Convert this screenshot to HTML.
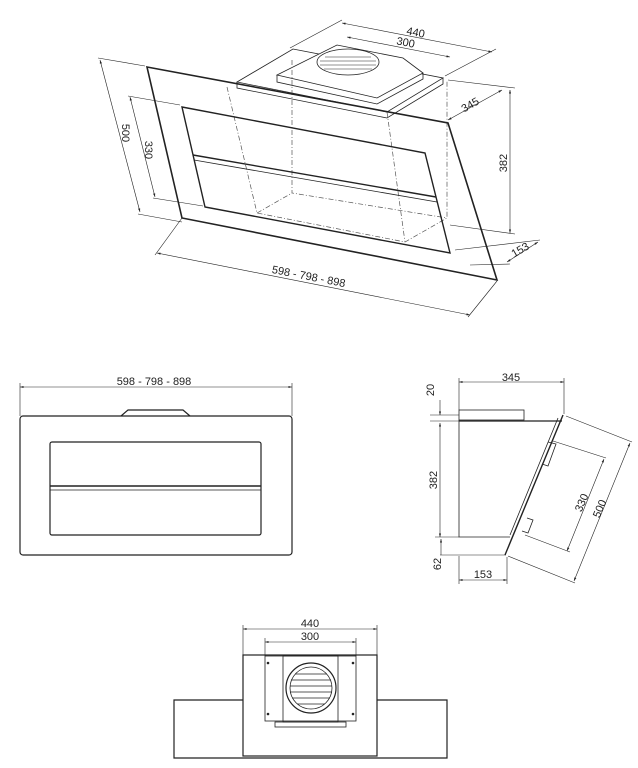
<!DOCTYPE html>
<html><head><meta charset="utf-8"><style>
html,body{margin:0;padding:0;background:#fff;}
svg{display:block;}
text{font-family:"Liberation Sans",sans-serif;font-size:11px;fill:#222;}
</style></head><body>
<svg width="638" height="768" viewBox="0 0 638 768" xmlns="http://www.w3.org/2000/svg">
<defs>
<marker id="a" viewBox="0 0 10 10" refX="10" refY="5" markerWidth="6" markerHeight="6" orient="auto-start-reverse"><path d="M0,2L10,5L0,8z" fill="#222"/></marker>
</defs>
<g fill="none" stroke="#222" stroke-width="0.8">
<!-- ISOMETRIC -->
<!-- motor box -->
<polygon points="237,82 293,49 443,78 387,112" />
<polyline points="237,82 237,88 387,118 443,84 443,78"/>
<polygon points="277,75 337,45 403,58 423,73 377,98" fill="#fff"/>
<polyline points="277,75 277,82 377,104 423,79 423,73"/>
<ellipse cx="348" cy="62" rx="31" ry="13"/>
<g stroke-width="0.6"><line x1="325" y1="57" x2="371" y2="57"/><line x1="320" y1="61" x2="376" y2="61"/><line x1="320" y1="65" x2="376" y2="65"/><line x1="324" y1="69" x2="372" y2="69"/></g>
<!-- dashed box -->
<g stroke-dasharray="5,2,1,2" stroke="#555" stroke-width="0.7">
<polyline points="227,87 257,213 405,242 447,218 447,80"/>
<polyline points="292,60 292,193 447,218"/>
<line x1="257" y1="213" x2="292" y2="193"/>
<polyline points="387,112 405,242"/>
</g>
<!-- outer glass -->
<polygon points="147,67 448,123 497,280 182,218" stroke-width="1.6" fill="none"/>
<!-- inner panel -->
<polygon points="182,107 425,153 450,253 205,207" stroke-width="1.4"/>
<line x1="193" y1="155" x2="436" y2="197" stroke-width="1.4"/>
<line x1="194" y1="160" x2="437" y2="202"/>
<!-- dims iso -->
<g stroke-width="0.6">
<line x1="342" y1="23" x2="492" y2="52" marker-start="url(#a)" marker-end="url(#a)"/>
<line x1="290" y1="48" x2="342" y2="20"/><line x1="445" y1="76" x2="496" y2="49"/>
<line x1="347" y1="37" x2="450" y2="57" marker-start="url(#a)" marker-end="url(#a)"/>
<line x1="100" y1="60" x2="140" y2="212" marker-start="url(#a)" marker-end="url(#a)"/>
<line x1="98" y1="58" x2="145" y2="66"/><line x1="138" y1="214" x2="182" y2="222"/>
<line x1="130" y1="97" x2="155" y2="197" marker-start="url(#a)" marker-end="url(#a)"/>
<line x1="128" y1="96" x2="180" y2="105"/><line x1="153" y1="198" x2="203" y2="206"/>
<line x1="510" y1="90" x2="510" y2="233" marker-start="url(#a)" marker-end="url(#a)"/>
<line x1="448" y1="80" x2="515" y2="88"/><line x1="450" y1="225" x2="515" y2="234"/>
<line x1="448" y1="120" x2="502" y2="90" marker-start="url(#a)" marker-end="url(#a)"/>
<line x1="507" y1="262" x2="538" y2="242" marker-start="url(#a)" marker-end="url(#a)"/>
<line x1="455" y1="250" x2="540" y2="240"/><line x1="470" y1="265" x2="510" y2="264"/>
<line x1="157" y1="253" x2="470" y2="315" marker-start="url(#a)" marker-end="url(#a)"/>
<line x1="155" y1="255" x2="182" y2="218"/><line x1="468" y1="317" x2="497" y2="281"/>
</g>
<!-- FRONT -->
<rect x="20" y="416" width="272" height="139" rx="3" stroke-width="1.2"/>
<polyline points="121,416 128,410 183,410 190,416" stroke-width="1.2"/>
<rect x="50" y="442" width="211" height="93" rx="2" stroke-width="1.2"/>
<line x1="50" y1="486" x2="261" y2="486" stroke-width="1.4"/><line x1="50" y1="490" x2="261" y2="490"/>
<line x1="20" y1="387" x2="292" y2="387" stroke-width="0.6" marker-start="url(#a)" marker-end="url(#a)"/>
<line x1="20" y1="383" x2="20" y2="416" stroke-width="0.6"/><line x1="292" y1="383" x2="292" y2="416" stroke-width="0.6"/>
<!-- SIDE -->
<rect x="459" y="410" width="65" height="10"/>
<polyline points="459,420 459,537 510,537"/>
<line x1="459" y1="421" x2="562" y2="421" stroke-width="1.2"/>
<line x1="563" y1="415" x2="505" y2="555" stroke-width="1.4"/>
<line x1="558" y1="418" x2="510" y2="535"/>
<polyline points="548,442 556,444 548,466 542,464 z"/>
<polyline points="527,518 533,520 528,533 522,531 z"/>
<g stroke-width="0.6">
<line x1="459" y1="382" x2="564" y2="382" marker-start="url(#a)" marker-end="url(#a)"/>
<line x1="459" y1="378" x2="459" y2="410"/><line x1="564" y1="378" x2="564" y2="414"/>
<line x1="430" y1="415" x2="459" y2="415"/><line x1="430" y1="421" x2="459" y2="421"/>
<line x1="440" y1="400" x2="440" y2="415" marker-end="url(#a)"/>
<line x1="440" y1="423" x2="440" y2="537" marker-start="url(#a)" marker-end="url(#a)"/>
<line x1="435" y1="537" x2="459" y2="537"/><line x1="440" y1="555" x2="506" y2="555"/>
<line x1="441" y1="539" x2="441" y2="555" marker-start="url(#a)"/>
<line x1="459" y1="580" x2="507" y2="580" marker-start="url(#a)" marker-end="url(#a)"/>
<line x1="459" y1="556" x2="459" y2="584"/><line x1="507" y1="557" x2="507" y2="584"/>
<line x1="553" y1="441" x2="606" y2="458"/><line x1="525" y1="535" x2="570" y2="552"/>
<line x1="604" y1="459" x2="567" y2="551" marker-start="url(#a)" marker-end="url(#a)"/>
<line x1="566" y1="416" x2="632" y2="442"/><line x1="508" y1="556" x2="575" y2="583"/>
<line x1="630" y1="443" x2="574" y2="581" marker-start="url(#a)" marker-end="url(#a)"/>
</g>
<!-- BOTTOM -->
<polyline points="243,700 174,700 174,758 447,758 447,700 377,700" stroke-width="1.2"/>
<rect x="243" y="655" width="134" height="101" stroke-width="1.2"/>
<rect x="265" y="656" width="91" height="65"/>
<rect x="283" y="656" width="55" height="66"/>
<rect x="275" y="722" width="71" height="5"/>
<circle cx="311" cy="688" r="25" stroke-width="1.2"/><circle cx="311" cy="688" r="21"/>
<g stroke-width="0.7"><line x1="295" y1="674" x2="327" y2="674"/><line x1="291" y1="680" x2="331" y2="680"/><line x1="290" y1="686" x2="332" y2="686"/><line x1="290" y1="692" x2="332" y2="692"/><line x1="292" y1="698" x2="330" y2="698"/><line x1="297" y1="704" x2="325" y2="704"/></g>
<g stroke-width="0.6">
<line x1="243" y1="629" x2="377" y2="629" marker-start="url(#a)" marker-end="url(#a)"/>
<line x1="243" y1="625" x2="243" y2="655"/><line x1="377" y1="625" x2="377" y2="655"/>
<line x1="265" y1="642" x2="356" y2="642" marker-start="url(#a)" marker-end="url(#a)"/>
<line x1="265" y1="638" x2="265" y2="656"/><line x1="356" y1="638" x2="356" y2="656"/>
</g>
</g>
<g fill="#222"><circle cx="268" cy="663" r="1.3"/><circle cx="353" cy="663" r="1.3"/><circle cx="268" cy="714" r="1.3"/><circle cx="353" cy="714" r="1.3"/></g>
<!-- texts -->
<text x="415" y="36" transform="rotate(11 415 36)" text-anchor="middle">440</text>
<text x="405" y="46" transform="rotate(11 405 46)" text-anchor="middle">300</text>
<text x="122" y="133" transform="rotate(90 122 133)" text-anchor="middle">500</text>
<text x="145" y="150" transform="rotate(90 145 150)" text-anchor="middle">330</text>
<text x="507" y="163" transform="rotate(-90 507 163)" text-anchor="middle">382</text>
<text x="472" y="108" transform="rotate(-30 472 108)" text-anchor="middle">345</text>
<text x="522" y="253" transform="rotate(-30 522 253)" text-anchor="middle">153</text>
<text x="308" y="280" transform="rotate(11 308 280)" text-anchor="middle">598 - 798 - 898</text>
<text x="154" y="385" text-anchor="middle">598 - 798 - 898</text>
<text x="511" y="381" text-anchor="middle">345</text>
<text x="434" y="390" transform="rotate(-90 434 390)" text-anchor="middle">20</text>
<text x="437" y="480" transform="rotate(-90 437 480)" text-anchor="middle">382</text>
<text x="441" y="564" transform="rotate(-90 441 564)" text-anchor="middle">62</text>
<text x="483" y="578" text-anchor="middle">153</text>
<text x="585" y="504" transform="rotate(-67 585 504)" text-anchor="middle">330</text>
<text x="603" y="510" transform="rotate(-67 603 510)" text-anchor="middle">500</text>
<text x="310" y="627" text-anchor="middle">440</text>
<text x="310" y="640" text-anchor="middle">300</text>
</svg>
</body></html>
